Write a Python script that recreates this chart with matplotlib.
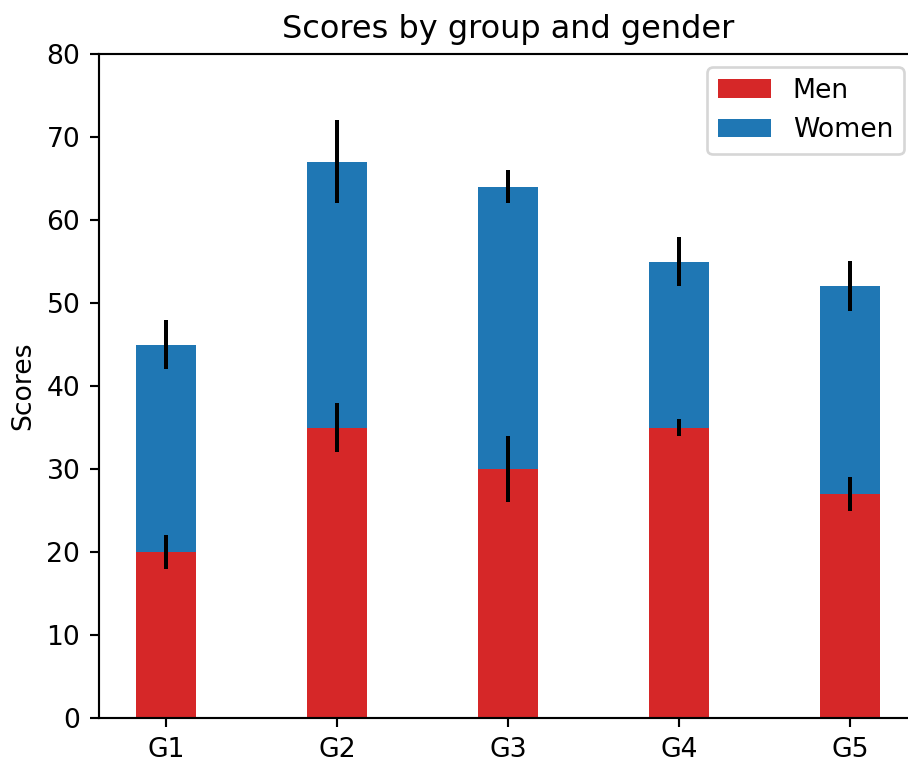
import numpy as np
import matplotlib
matplotlib.use('Agg')
from matplotlib import pyplot as plt

# Data
labels = ['G1', 'G2', 'G3', 'G4', 'G5']
men_means = [20, 35, 30, 35, 27]
women_means = [25, 32, 34, 20, 25]
men_std = [2, 3, 4, 1, 2]
women_std = [3, 5, 2, 3, 3]
width = 0.35

DPI = 192
fig = plt.figure(figsize=(908 / DPI, 761 / DPI), dpi=DPI)
# right spine falls just outside the picture, as in the reference
ax = fig.add_axes([99 / 908, 43 / 761, 818 / 908, 664 / 761])

ind = np.arange(len(labels))
ax.bar(ind, men_means, width, yerr=men_std, color='tab:red', label='Men')
ax.bar(ind, women_means, width, yerr=women_std, bottom=men_means,
       color='tab:blue', label='Women')

ax.set_ylabel('Scores')
ax.set_title('Scores by group and gender')
ax.set_xticks(ind)
ax.set_xticklabels(labels)
ax.set_yticks(np.arange(0, 81, 10))
ax.set_ylim(0, 80)
ax.legend(loc='upper right')

plt.savefig('out.png', dpi=DPI)
